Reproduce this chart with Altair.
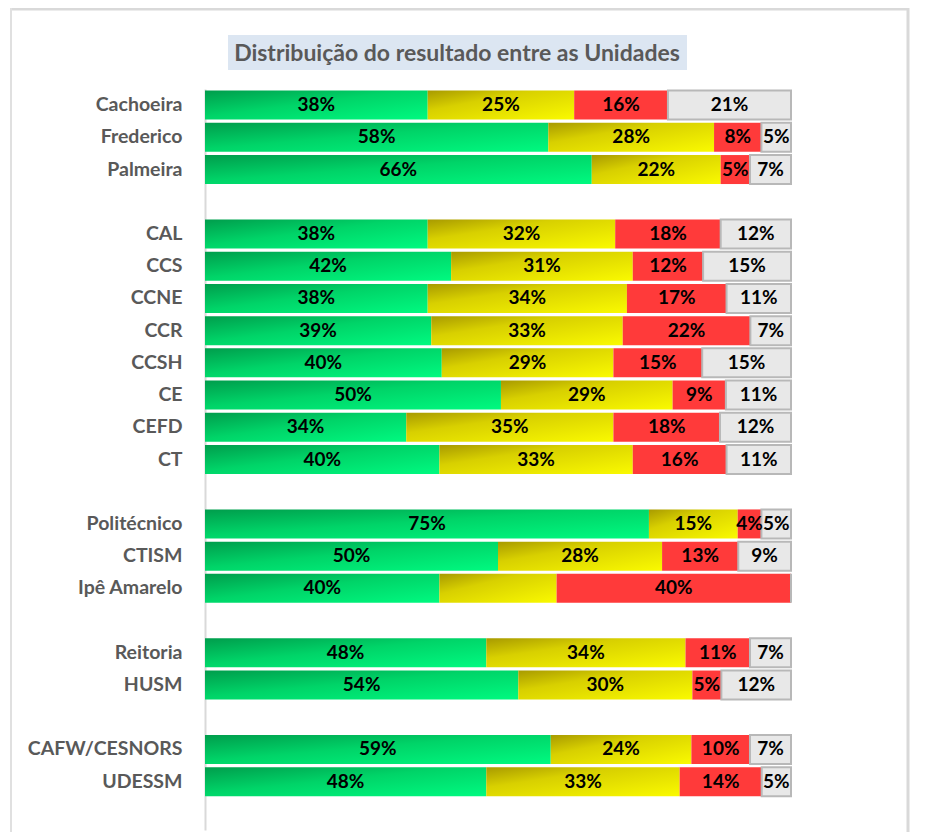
import altair as alt
import pandas as pd

units = ["Cachoeira", "Frederico", "Palmeira",
         "CAL", "CCS", "CCNE", "CCR", "CCSH", "CE", "CEFD", "CT",
         "Politécnico", "CTISM", "Ipê Amarelo",
         "Reitoria", "HUSM",
         "CAFW/CESNORS", "UDESSM"]
green = [38, 58, 66, 38, 42, 38, 39, 40, 50, 34, 40, 75, 50, 40, 48, 54, 59, 48]
yellow = [25, 28, 22, 32, 31, 34, 33, 29, 29, 35, 33, 15, 28, 20, 34, 30, 24, 33]
red = [16, 8, 5, 18, 12, 17, 22, 15, 9, 18, 16, 4, 13, 40, 11, 5, 10, 14]
gray = [21, 5, 7, 12, 15, 11, 7, 15, 11, 12, 11, 5, 9, 0, 7, 12, 7, 5]
hidden_labels = [("Ipê Amarelo", "yellow")]

# row order including blank separator rows
rows = ["Cachoeira", "Frederico", "Palmeira", "gap1",
        "CAL", "CCS", "CCNE", "CCR", "CCSH", "CE", "CEFD", "CT", "gap2",
        "Politécnico", "CTISM", "Ipê Amarelo", "gap3",
        "Reitoria", "HUSM", "gap4",
        "CAFW/CESNORS", "UDESSM", "gap5"]

title_text = "Distribuição do resultado entre as Unidades"

series = {"green": green, "yellow": yellow, "red": red, "gray": gray}
records = []
for order, (name, vals) in enumerate(series.items()):
    for u, v in zip(units, vals):
        records.append({
            "unit": u, "cat": name, "order": order, "value": v,
            "label": "" if (v == 0 or (u, name) in hidden_labels) else f"{v}%",
        })
df = pd.DataFrame(records)

W, H = 586, 741
FONT = "Lato"

y_enc = alt.Y("unit:N", scale=alt.Scale(domain=rows, paddingInner=0.1, paddingOuter=0.05),
              axis=alt.Axis(title=None, ticks=False, grid=False, domainColor="#d9d9d9",
                            domainWidth=2, labelPadding=23, labelFontSize=19.5,
                            labelFont=FONT, labelFontWeight="bold", labelColor="#595959",
                            labelExpr="indexof(datum.value, 'gap') == 0 ? '' : datum.value"))

base = alt.Chart(df).transform_stack(
    stack="value", as_=["x0", "x1"], groupby=["unit"],
    sort=[alt.SortField("order", order="ascending")], offset="normalize"
).transform_calculate(xm="(datum.x0 + datum.x1) / 2")

xs = alt.Scale(domain=[0, 1], nice=False, zero=True)

g_green = alt.Gradient(gradient="linear", x1=0, y1=0, x2=1, y2=1, stops=[
    alt.GradientStop(offset=0, color="#009d4c"),
    alt.GradientStop(offset=0.45, color="#00d468"),
    alt.GradientStop(offset=1, color="#00fa80")])
g_yellow = alt.Gradient(gradient="linear", x1=0, y1=0, x2=1, y2=1, stops=[
    alt.GradientStop(offset=0, color="#a89a00"),
    alt.GradientStop(offset=0.35, color="#d8d000"),
    alt.GradientStop(offset=1, color="#fafa00")])

def bar_layer(cat, **mk):
    return base.transform_filter(alt.datum.cat == cat).mark_bar(**mk).encode(
        x=alt.X("x0:Q", scale=xs, axis=None), x2="x1:Q", y=y_enc)

bars = [
    bar_layer("green", color=g_green),
    bar_layer("yellow", color=g_yellow),
    bar_layer("red", color="#ff3a3a"),
    bar_layer("gray", color="#e8e8e8", stroke="#b8b8b8", strokeWidth=2),
]

labels = base.mark_text(font=FONT, fontWeight="bold", fontSize=19, color="#000000",
                        baseline="middle", align="center").encode(
    x=alt.X("xm:Q", scale=xs, axis=None), y=y_enc, text="label:N")

tdf = pd.DataFrame({"t": [title_text]})
title_box = alt.Chart(tdf).mark_rect(color="#dce6f2").encode(
    x=alt.value(23), x2=alt.value(482), y=alt.value(-54), y2=alt.value(-19))
title_txt = alt.Chart(tdf).mark_text(font=FONT, fontWeight="bold", fontSize=23,
                                     color="#595959", align="center", baseline="middle").encode(
    x=alt.value(252), y=alt.value(-35), text="t:N")
border_r = alt.Chart(tdf).mark_rule(color="#d9d9d9", strokeWidth=3).encode(
    x=alt.value(703), y=alt.value(-81), y2=alt.value(745))
border_t = alt.Chart(tdf).mark_rule(color="#d9d9d9", strokeWidth=3).encode(
    x=alt.value(-195), x2=alt.value(703), y=alt.value(-80))
border_l = alt.Chart(tdf).mark_rule(color="#e0e0e0", strokeWidth=2).encode(
    x=alt.value(-194), y=alt.value(-81), y2=alt.value(745))

chart = alt.layer(border_t, border_r, border_l, title_box, title_txt, *bars, labels).properties(
    width=W, height=H,
    autosize=alt.AutoSizeParams(type="none"),
    padding={"left": 197, "top": 81, "right": 130, "bottom": 3},
).configure_view(stroke=None)

chart.save("out.html", embed_options={"renderer": "svg", "actions": False})
